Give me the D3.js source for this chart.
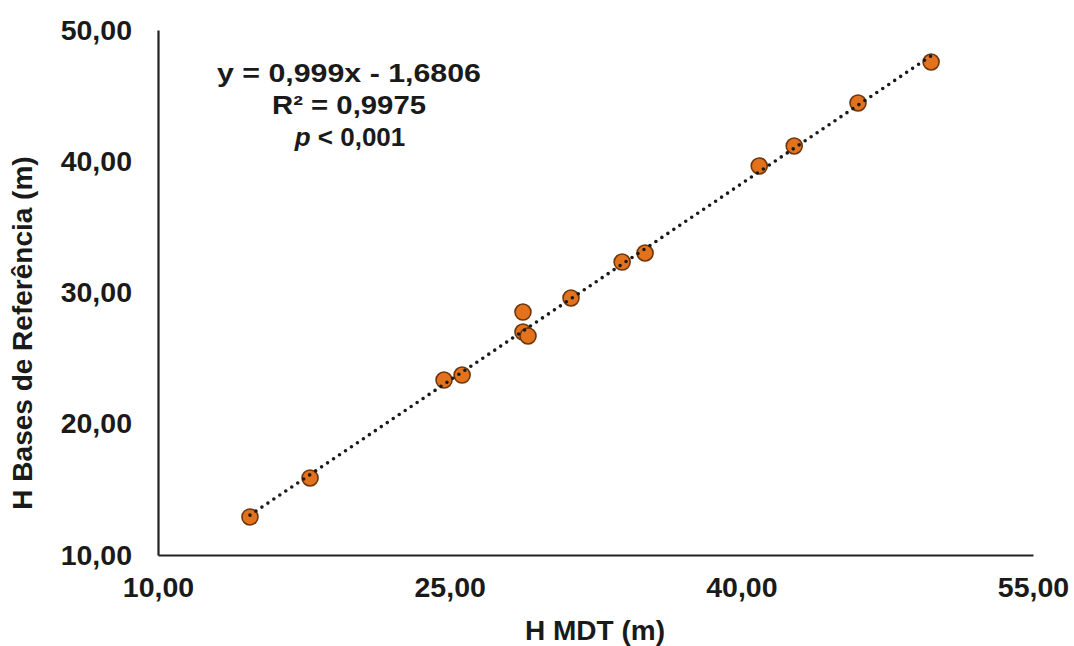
<!DOCTYPE html>
<html>
<head>
<meta charset="utf-8">
<script src="https://cdn.jsdelivr.net/npm/d3@7"></script>
<style>
  html, body { margin: 0; padding: 0; background: #fff; }
  svg { display: block; }
  text { font-family: "Liberation Sans", Arial, sans-serif; font-weight: bold; fill: #1a1a1a; }
</style>
</head>
<body>
<svg id="chart" width="1074" height="646"></svg>
<script>
// ---- data ----
const hMDT = [14.73, 17.82, 24.71, 25.64, 28.77, 28.77, 29.03, 31.24, 33.87, 35.05, 40.92, 42.72, 46.0, 49.76];
const hBases = [12.9, 15.87, 23.33, 23.71, 28.51, 26.99, 26.69, 29.58, 32.32, 33.01, 39.64, 41.16, 44.44, 47.56];
const xTicks = [10, 25, 40, 55];
const yTicks = [10, 20, 30, 40, 50];
const trendSlope = 0.999;
const trendIntercept = -1.6806;
const equationLines = ["y = 0,999x - 1,6806", "R² = 0,9975", "p < 0,001"];
const xTitle = "H MDT (m)";
const yTitle = "H Bases de Referência (m)";

const svg = d3.select("#chart");
const x = d3.scaleLinear().domain([10, 55]).range([158, 1033]);
const y = d3.scaleLinear().domain([10, 50]).range([555, 30]);

const locale = d3.formatLocale({decimal: ",", thousands: ".", grouping: [3], currency: ["", ""]});
const fmt = locale.format(".2f");

// axes
const gx = svg.append("g").attr("transform", `translate(0,${y(10)})`)
  .call(d3.axisBottom(x).tickValues(xTicks).tickSize(0).tickPadding(22).tickFormat(fmt));
const gy = svg.append("g").attr("transform", `translate(${x(10)},0)`)
  .call(d3.axisLeft(y).tickValues(yTicks).tickSize(0).tickPadding(26).tickFormat(fmt));
[gx, gy].forEach(g => {
  g.select(".domain").attr("stroke", "#222").attr("stroke-width", 2.2);
  g.selectAll("text").style("font-family", "'Liberation Sans', Arial, sans-serif")
    .style("font-weight", "bold").style("font-size", "28.5px").attr("fill", "#1a1a1a");
});

// points
svg.append("g").selectAll("circle")
  .data(hMDT.map((v, i) => [v, hBases[i]]))
  .join("circle")
  .attr("cx", d => x(d[0]))
  .attr("cy", d => y(d[1]))
  .attr("r", 8)
  .attr("fill", "#E2731C")
  .attr("stroke", "#6e360c")
  .attr("stroke-width", 1.6);

// trend line (dotted, drawn above points)
const xMin = d3.min(hMDT), xMax = d3.max(hMDT);
svg.append("line")
  .attr("x1", x(xMin)).attr("y1", y(trendSlope * xMin + trendIntercept))
  .attr("x2", x(xMax)).attr("y2", y(trendSlope * xMax + trendIntercept))
  .attr("stroke", "#1a1a1a")
  .attr("stroke-width", 3.6)
  .attr("stroke-linecap", "round")
  .attr("stroke-dasharray", "0 7.2");

// equation text
const eq = svg.append("g").attr("text-anchor", "middle").style("font-size", "26px");
eq.append("text").attr("x", 349).attr("y", 82).attr("textLength", 264).attr("lengthAdjust", "spacingAndGlyphs").text(equationLines[0]);
eq.append("text").attr("x", 349).attr("y", 114).attr("textLength", 154).attr("lengthAdjust", "spacingAndGlyphs").text(equationLines[1]);
const pLine = eq.append("text").attr("x", 350).attr("y", 146);
pLine.append("tspan").style("font-style", "italic").text("p");
pLine.append("tspan").text(equationLines[2].slice(1));

// axis titles
svg.append("text").attr("x", 595).attr("y", 640).attr("text-anchor", "middle")
  .style("font-size", "28px").text(xTitle);
svg.append("text").attr("transform", "translate(32,333) rotate(-90)").attr("text-anchor", "middle")
  .style("font-size", "28px").text(yTitle);
</script>
</body>
</html>
